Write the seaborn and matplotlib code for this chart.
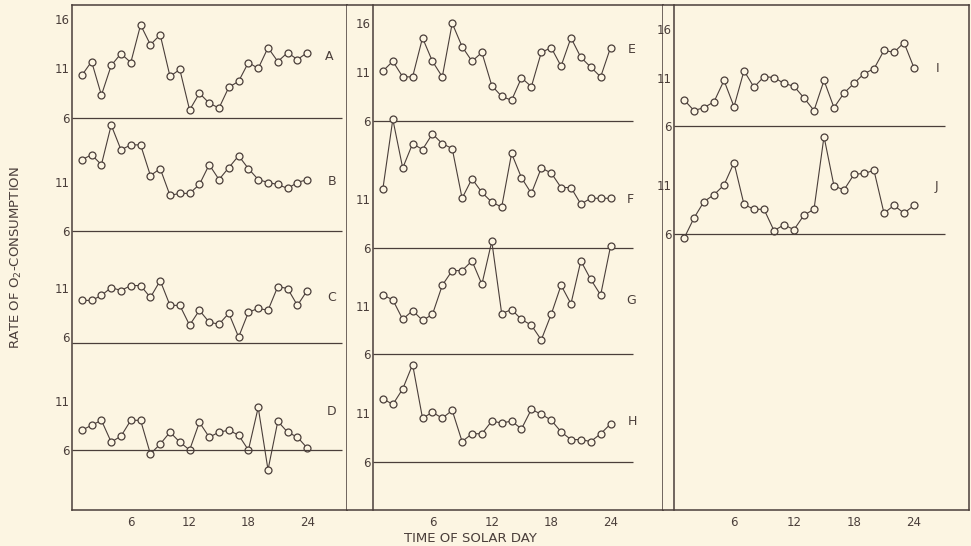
import matplotlib
matplotlib.use("Agg")
import matplotlib.pyplot as plt
import seaborn as sns
import pandas as pd

# ---------------- data (rate of O2 consumption per hour of solar day) -------------
hours = list(range(1, 25))

series_A = [10.3, 11.7, 8.3, 11.3, 12.5, 11.6, 15.4, 13.4, 14.4, 10.2, 10.9, 6.8,
            8.5, 7.5, 7.0, 9.1, 9.7, 11.6, 11.0, 13.1, 11.7, 12.6, 11.9, 12.6]
series_B = [13.2, 13.7, 12.7, 16.7, 14.2, 14.7, 14.7, 11.6, 12.3, 9.6, 9.8, 9.8,
            10.7, 12.7, 11.2, 12.4, 13.6, 12.3, 11.2, 10.9, 10.7, 10.3, 10.9, 11.2]
series_C = [9.7, 9.7, 10.2, 11.0, 10.7, 11.2, 11.2, 10.0, 11.7, 9.2, 9.2, 7.2,
            8.7, 7.5, 7.3, 8.4, 6.0, 8.5, 8.9, 8.7, 11.1, 10.9, 9.2, 10.7]
series_D = [8.0, 8.5, 9.0, 6.8, 7.4, 9.0, 9.0, 5.6, 6.6, 7.8, 6.8, 6.0,
            8.8, 7.3, 7.8, 8.0, 7.5, 6.0, 10.3, 4.0, 8.9, 7.8, 7.3, 6.2]
series_E = [11.1, 12.1, 10.5, 10.5, 14.5, 12.1, 10.5, 16.0, 13.6, 12.1, 13.0, 9.6,
            8.5, 8.1, 10.4, 9.5, 13.0, 13.5, 11.6, 14.5, 12.5, 11.5, 10.5, 13.5]
series_F = [12.1, 19.2, 14.2, 16.7, 16.1, 17.7, 16.7, 16.2, 11.1, 13.1, 11.7, 10.7,
            10.2, 15.7, 13.2, 11.6, 14.2, 13.7, 12.2, 12.2, 10.5, 11.1, 11.1, 11.1]
series_G = [12.1, 11.6, 9.6, 10.5, 9.5, 10.1, 13.1, 14.6, 14.6, 15.6, 13.2, 17.6,
            10.2, 10.6, 9.6, 9.0, 7.5, 10.1, 13.1, 11.2, 15.6, 13.7, 12.1, 17.1]
series_H = [12.5, 11.9, 13.5, 16.0, 10.5, 11.1, 10.5, 11.3, 8.1, 8.9, 8.9, 10.2,
            10.0, 10.2, 9.4, 11.4, 10.9, 10.3, 9.1, 8.3, 8.3, 8.1, 8.9, 9.9]
series_I = [8.7, 7.6, 7.9, 8.5, 10.7, 8.0, 11.7, 10.0, 11.1, 11.0, 10.4, 10.1,
            8.9, 7.6, 10.7, 7.9, 9.4, 10.4, 11.4, 11.9, 13.8, 13.6, 14.6, 12.0]
series_J = [5.5, 7.6, 9.3, 10.0, 11.0, 13.3, 9.0, 8.5, 8.5, 6.3, 6.9, 6.4,
            7.9, 8.5, 16.0, 10.9, 10.5, 12.1, 12.2, 12.5, 8.1, 8.9, 8.1, 8.9]

series = {"A": series_A, "B": series_B, "C": series_C, "D": series_D,
          "E": series_E, "F": series_F, "G": series_G, "H": series_H,
          "I": series_I, "J": series_J}

panel_series = [["A", "B", "C", "D"], ["E", "F", "G", "H"], ["I", "J"]]
x_tick_pos = [1, 6, 12, 18, 24]
x_tick_labels = ["", "6", "12", "18", "24"]

# ---------------- layout / style ------------------------------------------------
# vertical stacking offset of each curve inside its panel (in rate units)
offsets = {"A": 33.54, "B": 22.12, "C": 11.41, "D": 0.0,
           "E": 35.0, "F": 21.95, "G": 11.03, "H": 0.0,
           "I": 11.08, "J": 0.0}
base_level = {k: 6.0 for k in offsets}
base_level["C"] = 5.35
label_pos = {"A": (25.8, 12.2), "B": (26.1, 11.0), "C": (26.0, 10.0), "D": (26.0, 9.9),
             "E": (25.7, 13.35), "F": (25.6, 11.0), "G": (25.6, 11.5), "H": (25.7, 10.2),
             "I": (26.2, 11.95), "J": (26.1, 10.9)}

W, H = 971, 546
panel_px = [(72, 347), (347, 663), (663, 969)]
top_px, bot_px = 5, 510
xlims = [(0, 28.06), (-2.63, 29.3), (-1.1, 29.5)]
ylims = [(-0.06, 50.95), (1.08, 52.87), (-22.5, 29.56)]
line_end = [27.6, 26.3, 27.1]

bg = "#fcf5e2"
ink = "#4a3e3a"

sns.set_style("white")
plt.rcParams["font.family"] = ["DejaVu Sans"]

fig = plt.figure(figsize=(W / 100, H / 100), dpi=100, facecolor=bg)

for p, names in enumerate(panel_series):
    x0, x1 = panel_px[p]
    ax = fig.add_axes([x0 / W, (H - bot_px) / H, (x1 - x0) / W, (bot_px - top_px) / H])
    ax.set_facecolor(bg)
    ax.set_xlim(*xlims[p])
    ax.set_ylim(*ylims[p])

    yt, yl = [], []
    for i, name in enumerate(names):
        off = offsets[name]
        df = pd.DataFrame({"hour": hours, "rate": [v + off for v in series[name]]})
        sns.lineplot(data=df, x="hour", y="rate", ax=ax, color=ink, linewidth=0.8,
                     marker="o", markersize=5, markerfacecolor=bg,
                     markeredgecolor=ink, markeredgewidth=0.9)
        ax.hlines(base_level[name] + off, 0, line_end[p], color=ink, linewidth=0.9)
        lx, ly = label_pos[name]
        ax.text(lx, ly + off, name, color=ink, fontsize=9, ha="left", va="center")
        levels = [6, 8.5, 11, 13.5] + ([16] if i == 0 else [])
        for lv in levels:
            yt.append(lv + off)
            yl.append(str(lv) if lv in (6, 11, 16) else "")
        if i == len(names) - 1:
            lv = 3.5
            while lv + off > ylims[p][0] + 0.5:
                yt.append(lv + off)
                yl.append("")
                lv -= 2.5 if p < 2 else 5
    ax.set_yticks(yt)
    ax.set_yticklabels(yl)
    ax.set_xticks(x_tick_pos)
    ax.set_xticklabels(x_tick_labels)
    ax.set_xlabel("")
    ax.set_ylabel("")
    for s in ax.spines.values():
        s.set_visible(True)
        s.set_color(ink)
        s.set_linewidth(1.1)
    if p > 0:
        ax.spines["left"].set_position(("data", 0))
    ax.tick_params(axis="both", direction="in", length=3.5, width=0.9, colors=ink,
                   labelsize=8.5, pad=2)
    ax.tick_params(axis="x", pad=4)

fig.text(16 / W, 1 - 258 / H, "RATE OF O$_2$-CONSUMPTION", rotation=90,
         ha="center", va="center", color=ink, fontsize=9.5)
fig.text(470 / W, 1 - 538 / H, "TIME OF SOLAR DAY", ha="center", va="center",
         color=ink, fontsize=9.5)

fig.savefig("out.png", dpi=100, facecolor=bg)
